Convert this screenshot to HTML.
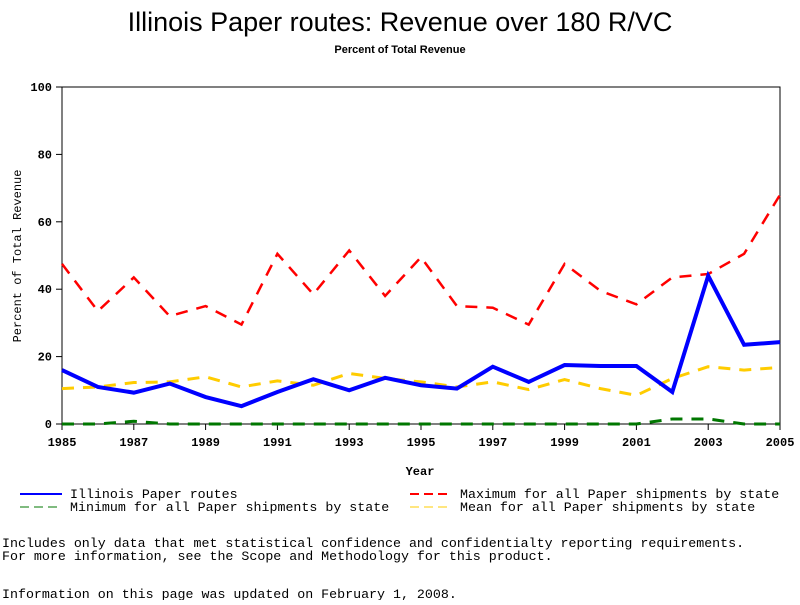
<!DOCTYPE html>
<html><head><meta charset="utf-8"><style>
body{margin:0;background:#fff;width:800px;height:600px;overflow:hidden}
svg text{font-family:"Liberation Mono",monospace}
</style></head><body>
<svg width="800" height="600" xmlns="http://www.w3.org/2000/svg">
<text x="400" y="31" text-anchor="middle" style="font-family:'Liberation Sans',sans-serif;font-size:27px">Illinois Paper routes: Revenue over 180 R/VC</text>
<text x="400" y="53" text-anchor="middle" style="font-family:'Liberation Sans',sans-serif;font-size:11px;font-weight:bold">Percent of Total Revenue</text>
<rect x="62" y="87" width="718" height="337" fill="none" stroke="#000" stroke-width="1"/>
<g id="axes"></g>
<g id="series"></g>
<text x="420" y="475" text-anchor="middle" font-size="12" font-weight="bold">Year</text>
<text transform="translate(21,256) rotate(-90)" text-anchor="middle" font-size="12">Percent of Total Revenue</text>
<g font-size="13.3">
<line x1="20" y1="494" x2="62" y2="494" stroke="#00f" stroke-width="2"/>
<text x="70" y="498">Illinois Paper routes</text>
<line x1="410" y1="494" x2="452" y2="494" stroke="#f00" stroke-width="2" stroke-dasharray="9,5"/>
<text x="460" y="498">Maximum for all Paper shipments by state</text>
<line x1="20" y1="507" x2="62" y2="507" stroke="#070" stroke-width="1" stroke-dasharray="9,5"/>
<text x="70" y="511">Minimum for all Paper shipments by state</text>
<line x1="410" y1="507" x2="452" y2="507" stroke="#fc0" stroke-width="1" stroke-dasharray="9,5"/>
<text x="460" y="511">Mean for all Paper shipments by state</text>
</g>
<g font-size="13.3">
<text x="2" y="547">Includes only data that met statistical confidence and confidentialty reporting requirements.</text>
<text x="2" y="560">For more information, see the Scope and Methodology for this product.</text>
<text x="2" y="598">Information on this page was updated on February 1, 2008.</text>
</g>
</svg>
<script>
const years=[1985,1986,1987,1988,1989,1990,1991,1992,1993,1994,1995,1996,1997,1998,1999,2000,2001,2002,2003,2004,2005];
const illinois=[16,11,9.3,12,8,5.3,9.5,13.3,10,13.7,11.5,10.5,17,12.5,17.5,17.2,17.2,9.5,44,23.5,24.3];
const maximum=[47.5,33.5,43.5,32,35,29.5,50.5,38.5,51.5,38,49.5,35,34.5,29.5,47.5,39.5,35.5,43.5,44.5,50.5,68];
const mean=[10.5,11,12.3,12.5,14,11,12.8,11.5,15,13.5,12.5,11,12.5,10.2,13.2,10.5,8.5,13.5,17,16,16.8];
const minimum=[0,0,0.8,0,0,0,0,0,0,0,0,0,0,0,0,0,0,1.5,1.5,0,0];
const yTicks=[0,20,40,60,80,100];
const xTicks=[1985,1987,1989,1991,1993,1995,1997,1999,2001,2003,2005];
const NS="http://www.w3.org/2000/svg";
const x=v=>62+(v-1985)*(718/20);
const y=v=>424-v*3.37;
const axes=document.getElementById('axes');
function mk(t,a,p){const e=document.createElementNS(NS,t);for(const k in a)e.setAttribute(k,a[k]);p.appendChild(e);return e;}
yTicks.forEach(t=>{
  const l=mk('line',{x1:56,x2:62,y1:y(t),y2:y(t),stroke:'#000'},axes);
  
  
  const tx=mk('text',{x:52,y:y(t)+4,'text-anchor':'end','font-size':12,'font-weight':'bold'},axes);
  tx.textContent=t;
  
  
});
xTicks.forEach(t=>{
  const l=mk('line',{x1:x(t),x2:x(t),y1:424,y2:430,stroke:'#000'},axes);
  
  
  const tx=mk('text',{x:x(t),y:446,'text-anchor':'middle','font-size':12,'font-weight':'bold'},axes);
  tx.textContent=t;
  
  
});
const sg=document.getElementById('series');
function line(vals,color,w,dash,name){
  const p=mk('polyline',{points:vals.map((v,i)=>x(years[i])+','+y(v)).join(' '),fill:'none',stroke:color,'stroke-width':w,'stroke-dasharray':dash},sg);
  
  
}
line(minimum,'#070',3,'12,9','minimum-line');
line(mean,'#fc0',3,'12,9','mean-line');
line(maximum,'#f00',2.5,'12,9','maximum-line');
line(illinois,'#00f',4,'none','illinois-line');
</script>
</body></html>
